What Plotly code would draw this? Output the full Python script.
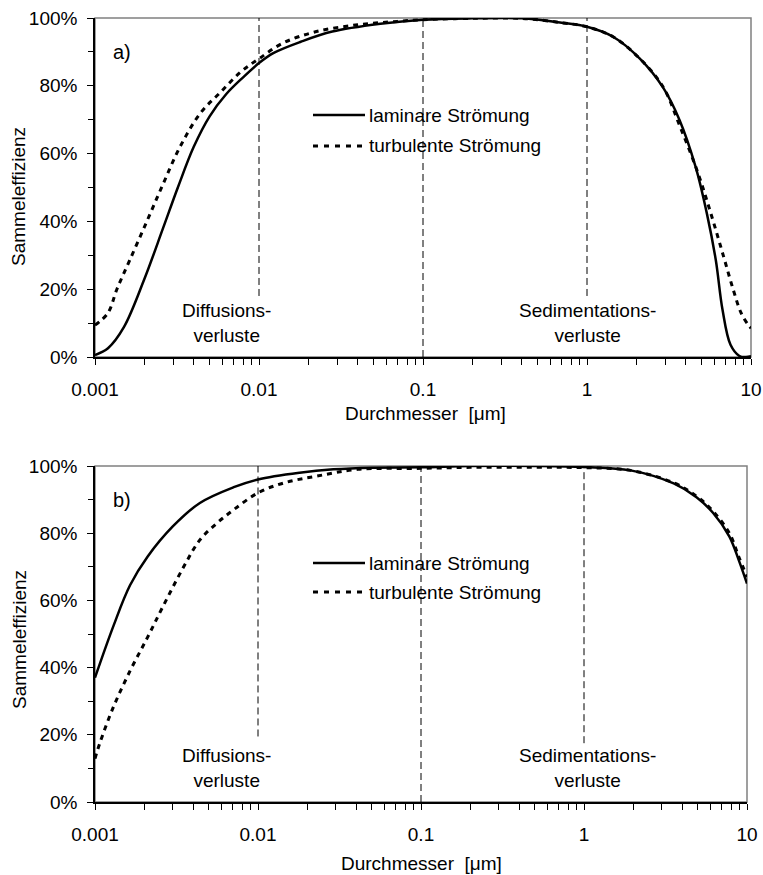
import plotly.graph_objects as go

# ---------------- data ----------------
# panel a)
a_lam_x = [0.001, 0.0012, 0.0015, 0.002, 0.0026, 0.0032, 0.004, 0.005, 0.0063, 0.008,
           0.01, 0.0123, 0.018, 0.028, 0.055, 0.1, 0.2, 0.4, 0.7, 1.0, 1.45, 2.1,
           2.9, 3.66, 4.6, 5.4, 6.1, 6.7, 7.5, 8.5, 9.3, 10]
a_lam_y = [0.6, 2.6, 8.8, 23, 38, 50, 62, 71, 77.5, 82.5,
           86.7, 89.7, 93, 96, 98.3, 99.5, 99.9, 99.9, 98.6, 97.4, 94.4, 88,
           79.6, 70, 56, 42, 28.6, 14, 3.6, 0.3, 0, 0.2]
a_tur_x = [0.001, 0.0012, 0.00136, 0.00163, 0.00207, 0.0026, 0.0033, 0.0044, 0.0058,
           0.0077, 0.01, 0.014, 0.0224, 0.04, 0.07, 0.1, 0.2, 0.4, 0.7, 1.0, 1.45,
           2.1, 2.9, 3.69, 4.77, 5.76, 6.8, 7.8, 8.7, 9.6, 10]
a_tur_y = [9.4, 13, 20, 28.6, 40, 51, 62, 72, 78,
           84, 88, 92.6, 96, 98, 99, 99.5, 99.9, 99.9, 98.6, 97.4, 94.4,
           88, 79.8, 68, 54, 41.5, 29.7, 19.8, 13, 9.5, 8.5]

# panel b)
b_lam_x = [0.001, 0.0013, 0.00164, 0.0021, 0.003, 0.0044, 0.0071, 0.01,
           0.018, 0.029, 0.05, 0.1, 0.2, 0.5, 1.0, 1.93, 3.55, 4.9, 6.2, 7.8, 8.9, 10]
b_lam_y = [37, 52.5, 64.5, 73, 82, 89, 93.7, 96,
           98, 99, 99.5, 99.6, 100, 100, 99.7, 98.7, 94.8, 90.7, 86, 79, 72, 65]
b_tur_x = [0.001, 0.00107, 0.00129, 0.00164, 0.0021, 0.0026, 0.0035, 0.0044, 0.0056,
           0.0071, 0.01, 0.0145, 0.023, 0.041, 0.1, 0.2, 0.5, 1.0, 1.93, 3.55, 4.9,
           6.2, 7.8, 8.9, 10]
b_tur_y = [12.9, 17.5, 28, 39, 49, 58, 70, 78, 83,
           87, 92, 95, 97, 99, 99.3, 99.6, 99.6, 99.5, 98.7, 95, 91,
           86.5, 80, 73, 67]

# vertical reference lines (diameter, lower end in %)
ref_x = [0.01, 0.1, 1]
ref_low_a = [18, 0, 18]
ref_low_b = [19.5, 0, 17.5]

# tick labels
x_decades = [0.001, 0.01, 0.1, 1, 10]
x_dec_labels = ["0.001", "0.01", "0.1", "1", "10"]
x_ticks = [m * d for d in x_decades[:-1] for m in range(1, 10)] + [10]
x_ticktext = []
for v in x_ticks:
    lab = ""
    for d, l in zip(x_decades, x_dec_labels):
        if abs(v - d) / d < 1e-9:
            lab = l
    x_ticktext.append(lab)

series_names = ["laminare Strömung", "turbulente Strömung"]
region_labels = ["Diffusions-<br>verluste", "Sedimentations-<br>verluste"]
panel_labels = ["a)", "b)"]
x_title = "Durchmesser\u00a0\u00a0[μm]"
y_title = "Sammeleffizienz"

# ---------------- figure ----------------
W, H = 763, 875
FONT = "Liberation Sans, Arial, sans-serif"
FS = 19

def px(x):
    return x / W

def py(y):
    return 1 - y / H

fig = go.Figure()

solid = dict(color="black", width=2.5)
dashed = dict(color="black", width=3, dash="5px,5px")
refl = dict(color="black", width=1, dash="7px,4px")

for (xa, ya, lows) in [("x", "y", ref_low_a), ("x2", "y2", ref_low_b)]:
    for rx, lo in zip(ref_x, lows):
        fig.add_trace(go.Scatter(x=[rx, rx], y=[lo, 100], mode="lines", line=refl,
                                 xaxis=xa, yaxis=ya, showlegend=False, hoverinfo="skip"))

fig.add_trace(go.Scatter(x=a_tur_x, y=a_tur_y, mode="lines", line=dashed,
                         xaxis="x", yaxis="y", showlegend=False, line_shape="spline"))
fig.add_trace(go.Scatter(x=a_lam_x, y=a_lam_y, mode="lines", line=solid,
                         xaxis="x", yaxis="y", showlegend=False, line_shape="spline"))
fig.add_trace(go.Scatter(x=b_tur_x, y=b_tur_y, mode="lines", line=dashed,
                         xaxis="x2", yaxis="y2", showlegend=False, line_shape="spline"))
fig.add_trace(go.Scatter(x=b_lam_x, y=b_lam_y, mode="lines", line=solid,
                         xaxis="x2", yaxis="y2", showlegend=False, line_shape="spline"))

tickfont = dict(family=FONT, size=FS, color="black")

def xaxis_cfg(domain, anchor):
    return dict(domain=domain, anchor=anchor, type="log", range=[-3, 1],
                tickmode="array", tickvals=x_ticks, ticktext=x_ticktext,
                ticks="outside", ticklen=6, tickwidth=1, tickcolor="black",
                showline=True, linecolor="black", linewidth=1.5,
                showgrid=False, zeroline=False, tickfont=tickfont,
                ticklabelstandoff=8, automargin=False)

def yaxis_cfg(domain, anchor):
    return dict(domain=domain, anchor=anchor, range=[0, 100], tickmode="linear",
                tick0=0, dtick=20, ticksuffix="%",
                ticks="outside", ticklen=6, tickwidth=1, tickcolor="black",
                minor=dict(dtick=10, tick0=0, ticks="outside", ticklen=5,
                           tickcolor="black", tickwidth=1, showgrid=False),
                showline=True, linecolor="black", linewidth=1.5,
                showgrid=False, zeroline=False, tickfont=tickfont,
                ticklabelstandoff=6, automargin=False)

xd_a = [px(95), px(751)]
xd_b = [px(95), px(747)]
yd_a = [py(357), py(18)]
yd_b = [py(802), py(466)]

fig.update_layout(
    width=W, height=H, autosize=False,
    margin=dict(l=0, r=0, t=0, b=0),
    paper_bgcolor="white", plot_bgcolor="white",
    font=dict(family=FONT, size=FS, color="black"),
    showlegend=False,
    xaxis=xaxis_cfg(xd_a, "y"),
    yaxis=yaxis_cfg(yd_a, "x"),
    xaxis2=xaxis_cfg(xd_b, "y2"),
    yaxis2=yaxis_cfg(yd_b, "x2"),
    # inside halves of the crossing major ticks
    xaxis3=dict(overlaying="x", anchor="y", type="log", range=[-3, 1], tickmode="array",
                tickvals=x_decades, ticks="inside", ticklen=5, tickcolor="black",
                showticklabels=False, showline=False, showgrid=False, zeroline=False),
    xaxis4=dict(overlaying="x2", anchor="y2", type="log", range=[-3, 1], tickmode="array",
                tickvals=x_decades, ticks="inside", ticklen=5, tickcolor="black",
                showticklabels=False, showline=False, showgrid=False, zeroline=False),
    yaxis3=dict(overlaying="y", anchor="x", range=[0, 100], tickmode="linear", tick0=0,
                dtick=20, ticks="inside", ticklen=6, tickcolor="black",
                showticklabels=False, showline=False, showgrid=False, zeroline=False),
    yaxis4=dict(overlaying="y2", anchor="x2", range=[0, 100], tickmode="linear", tick0=0,
                dtick=20, ticks="inside", ticklen=6, tickcolor="black",
                showticklabels=False, showline=False, showgrid=False, zeroline=False),
)

shapes = []
annotations = []

panels = [
    dict(xd="x domain", yd="y domain", leg_y=(115, 146),
         lab_y=52, reg_y=323, xt_y=413, yt_y=197, xt_x=425),
    dict(xd="x2 domain", yd="y2 domain", leg_y=(563, 592),
         lab_y=500, reg_y=768, xt_y=863, yt_y=640, xt_x=421),
]

for i, p in enumerate(panels):
    # gray frame (top / right); axis lines cover left / bottom
    shapes.append(dict(type="rect", xref=p["xd"], yref=p["yd"], x0=0, x1=1, y0=0, y1=1,
                       line=dict(color="#808080", width=1.5), layer="below"))
    # legend samples
    shapes.append(dict(type="line", xref="paper", yref="paper",
                       x0=px(313), x1=px(365), y0=py(p["leg_y"][0]), y1=py(p["leg_y"][0]),
                       line=dict(color="black", width=2.5)))
    shapes.append(dict(type="line", xref="paper", yref="paper",
                       x0=px(313), x1=px(365), y0=py(p["leg_y"][1]), y1=py(p["leg_y"][1]),
                       line=dict(color="black", width=3, dash="5px,6px")))
    for k, name in enumerate(series_names):
        annotations.append(dict(text=name, xref="paper", yref="paper", x=px(367),
                                y=py(p["leg_y"][k]), xanchor="left", yanchor="middle",
                                showarrow=False, font=dict(size=FS)))
    annotations.append(dict(text=panel_labels[i], xref="paper", yref="paper", x=px(111),
                            y=py(p["lab_y"]), xanchor="left", yanchor="middle",
                            showarrow=False, font=dict(size=FS + 1)))
    annotations.append(dict(text=region_labels[0], xref="paper", yref="paper",
                            x=px(227), y=py(p["reg_y"]), xanchor="center", yanchor="middle",
                            showarrow=False, font=dict(size=FS)))
    annotations.append(dict(text=region_labels[1], xref="paper", yref="paper",
                            x=px(587), y=py(p["reg_y"]), xanchor="center", yanchor="middle",
                            showarrow=False, font=dict(size=FS)))
    annotations.append(dict(text=x_title, xref="paper", yref="paper", x=px(p["xt_x"]),
                            y=py(p["xt_y"]), xanchor="center", yanchor="middle",
                            showarrow=False, font=dict(size=FS)))
    annotations.append(dict(text=y_title, xref="paper", yref="paper", x=px(19),
                            y=py(p["yt_y"]), xanchor="center", yanchor="middle",
                            textangle=-90, showarrow=False, font=dict(size=FS)))

fig.update_layout(shapes=shapes, annotations=annotations)

fig.write_html(
    "out.html",
    config={"displayModeBar": False},
    post_script="document.body.style.margin='0';document.body.style.overflow='hidden';",
)
